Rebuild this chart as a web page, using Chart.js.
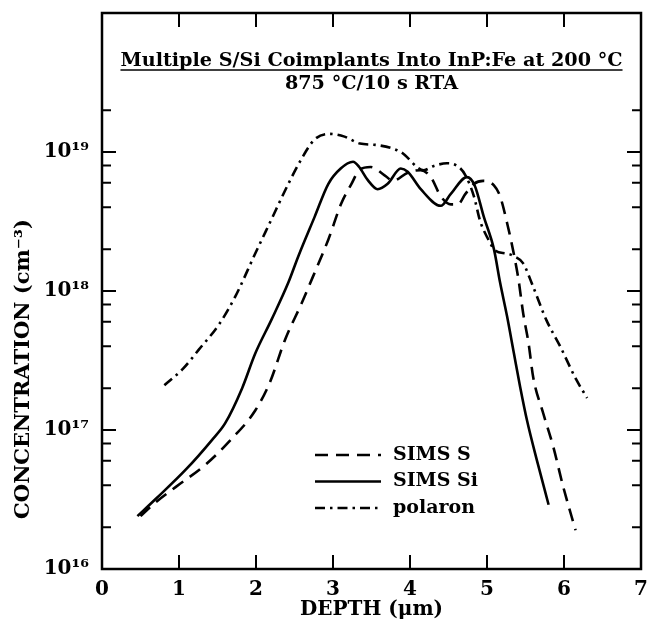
<!DOCTYPE html>
<html><head><meta charset="utf-8">
<script src="https://cdn.jsdelivr.net/npm/chart.js@4.4.0/dist/chart.umd.min.js"></script>
<style>html,body{margin:0;padding:0;background:#fff;}#wrap{width:649px;height:636px;}</style>
</head><body><div id="wrap"><canvas id="c" width="649" height="636"></canvas></div>
<script>
const titleLine1 = 'Multiple S/Si Coimplants Into InP:Fe at 200 °C';
const titleLine2 = '875 °C/10 s RTA';
const xAxisTitle = 'DEPTH (μm)';
const yAxisTitle = 'CONCENTRATION (cm⁻³)';
const seriesNames = ['SIMS S', 'SIMS Si', 'polaron'];
const xTickValues = [0, 1, 2, 3, 4, 5, 6, 7];
const yMajorTicks = [1e16, 1e17, 1e18, 1e19];
const yTickLabels = ['10¹⁶', '10¹⁷', '10¹⁸', '10¹⁹'];
const yMinorTicks = [2e16, 4e16, 6e16, 8e16, 2e17, 4e17, 6e17, 8e17, 2e18, 4e18, 6e18, 8e18, 2e19];

const simsS_x = [0.50, 0.66, 0.96, 1.34, 1.69, 1.99, 2.18, 2.38, 2.59, 2.76, 2.94, 3.11, 3.24, 3.34, 3.49, 3.67, 3.78, 3.97, 4.14, 4.27, 4.40, 4.53, 4.62, 4.72, 4.83, 4.95, 5.09, 5.17, 5.26, 5.34, 5.41, 5.47, 5.54, 5.60, 5.73, 5.86, 5.99, 6.15];
const simsS_y = [2.4e16, 2.9e16, 3.9e16, 5.6e16, 8.7e16, 1.38e17, 2.2e17, 4.5e17, 8.1e17, 1.35e18, 2.35e18, 4.3e18, 5.9e18, 7.4e18, 7.8e18, 6.8e18, 6.2e18, 7.1e18, 7.4e18, 6.6e18, 4.8e18, 4.2e18, 4.2e18, 5.0e18, 5.9e18, 6.2e18, 5.75e18, 4.8e18, 3.1e18, 1.95e18, 1.2e18, 6.9e17, 4.2e17, 2.4e17, 1.32e17, 7.6e16, 3.9e16, 1.9e16];

const simsSi_x = [0.46, 0.70, 1.09, 1.43, 1.60, 1.82, 1.99, 2.20, 2.42, 2.55, 2.76, 2.94, 3.10, 3.26, 3.34, 3.45, 3.58, 3.71, 3.88, 3.97, 4.14, 4.40, 4.53, 4.74, 4.84, 4.96, 5.09, 5.17, 5.26, 5.35, 5.43, 5.52, 5.65, 5.80];
const simsSi_y = [2.4e16, 3.2e16, 5.2e16, 8.5e16, 1.12e17, 2.0e17, 3.55e17, 6.2e17, 1.15e18, 1.78e18, 3.4e18, 5.9e18, 7.6e18, 8.5e18, 7.8e18, 6.3e18, 5.4e18, 5.9e18, 7.6e18, 7.2e18, 5.4e18, 4.1e18, 5.0e18, 6.6e18, 5.75e18, 3.4e18, 2.0e18, 1.15e18, 6.6e17, 3.55e17, 2.05e17, 1.17e17, 6.0e16, 2.9e16];

const polaron_x = [0.81, 1.05, 1.26, 1.52, 1.73, 1.99, 2.18, 2.42, 2.59, 2.76, 2.95, 3.15, 3.35, 3.58, 3.88, 4.18, 4.30, 4.48, 4.62, 4.72, 4.83, 4.91, 5.00, 5.11, 5.25, 5.35, 5.47, 5.60, 5.77, 5.95, 6.16, 6.30];
const polaron_y = [2.1e17, 2.75e17, 3.8e17, 5.75e17, 9.1e17, 1.86e18, 3.1e18, 5.9e18, 8.9e18, 1.23e19, 1.35e19, 1.29e19, 1.15e19, 1.12e19, 1.0e19, 7.4e18, 7.9e18, 8.3e18, 7.9e18, 6.8e18, 4.8e18, 3.2e18, 2.45e18, 1.95e18, 1.86e18, 1.78e18, 1.58e18, 1.07e18, 6.2e17, 4.0e17, 2.3e17, 1.7e17];

const FONT = '"DejaVu Serif", "Liberation Serif", serif';
const toPts = (xs, ys) => xs.map((x, i) => ({x: x, y: ys[i]}));

const framePlugin = {
  id: 'frame',
  afterDraw(chart) {
    const ctx = chart.ctx, a = chart.chartArea;
    const xs = chart.scales.x, ys = chart.scales.y;
    ctx.save();
    ctx.strokeStyle = '#000';
    ctx.lineWidth = 2.5;
    ctx.strokeRect(a.left, a.top, a.right - a.left, a.bottom - a.top);
    ctx.lineWidth = 2;
    ctx.beginPath();
    xTickValues.forEach(v => {
      if (v === xs.min || v === xs.max) return;
      const p = xs.getPixelForValue(v);
      ctx.moveTo(p, a.bottom); ctx.lineTo(p, a.bottom - 14);
      ctx.moveTo(p, a.top); ctx.lineTo(p, a.top + 14);
    });
    yMajorTicks.forEach(v => {
      if (v === ys.min) return;
      const p = ys.getPixelForValue(v);
      ctx.moveTo(a.left, p); ctx.lineTo(a.left + 14, p);
      ctx.moveTo(a.right, p); ctx.lineTo(a.right - 14, p);
    });
    yMinorTicks.forEach(v => {
      const p = ys.getPixelForValue(v);
      ctx.moveTo(a.left, p); ctx.lineTo(a.left + 9, p);
      ctx.moveTo(a.right, p); ctx.lineTo(a.right - 9, p);
    });
    ctx.stroke();

    // title inside plot
    const cx = (a.left + a.right) / 2;
    ctx.fillStyle = '#000';
    ctx.textAlign = 'center';
    ctx.textBaseline = 'alphabetic';
    ctx.font = 'bold 19.2px ' + FONT;
    ctx.fillText(titleLine1, cx, 66);
    const w = ctx.measureText(titleLine1).width;
    ctx.lineWidth = 1.5;
    ctx.beginPath();
    ctx.moveTo(cx - w / 2, 70); ctx.lineTo(cx + w / 2, 70);
    ctx.stroke();
    ctx.fillText(titleLine2, cx, 88.5);

    // y axis title
    ctx.save();
    ctx.translate(24, 369);
    ctx.rotate(-Math.PI / 2);
    ctx.textBaseline = 'middle';
    ctx.font = 'bold 21px ' + FONT;
    ctx.fillText(yAxisTitle, 0, 0);
    ctx.restore();

    // legend
    ctx.textAlign = 'left';
    ctx.textBaseline = 'middle';
    ctx.font = 'bold 19px ' + FONT;
    chart.data.datasets.forEach((ds, i) => {
      const y = 455 + i * 26.5;
      ctx.save();
      ctx.lineWidth = ds.borderWidth;
      ctx.setLineDash(ds.borderDash || []);
      ctx.beginPath();
      ctx.moveTo(315, y); ctx.lineTo(381, y);
      ctx.stroke();
      ctx.restore();
      ctx.fillText(ds.label, 393, y);
    });
    ctx.restore();
  }
};

const dashS = [13, 8];
const dashP = [10, 5, 2.5, 5];

new Chart(document.getElementById('c'), {
  type: 'scatter',
  data: {
    datasets: [
      {label: seriesNames[0], data: toPts(simsS_x, simsS_y), borderColor: '#000', borderWidth: 2.6, borderDash: dashS, showLine: true, pointRadius: 0, cubicInterpolationMode: 'monotone'},
      {label: seriesNames[1], data: toPts(simsSi_x, simsSi_y), borderColor: '#000', borderWidth: 2.6, borderDash: [], showLine: true, pointRadius: 0, cubicInterpolationMode: 'monotone'},
      {label: seriesNames[2], data: toPts(polaron_x, polaron_y), borderColor: '#000', borderWidth: 2.6, borderDash: dashP, showLine: true, pointRadius: 0, cubicInterpolationMode: 'monotone'}
    ]
  },
  options: {
    responsive: false,
    animation: false,
    devicePixelRatio: 1,
    layout: {padding: {top: 13, right: 8, left: 0, bottom: 0}},
    plugins: {legend: {display: false}, tooltip: {enabled: false}},
    scales: {
      x: {
        type: 'linear', min: 0, max: 7,
        grid: {display: false, drawTicks: false},
        border: {display: false},
        afterBuildTicks: s => { s.ticks = xTickValues.map(v => ({value: v})); },
        afterFit: s => { s.height = 67; s.paddingLeft = 0; s.paddingRight = 0; },
        ticks: {color: '#000', padding: 9, font: {family: FONT, size: 20, weight: 'bold'}, maxRotation: 0, autoSkip: false},
        title: {display: true, text: xAxisTitle, color: '#000', padding: {top: 2, bottom: 14}, font: {family: FONT, size: 20, weight: 'bold'}}
      },
      y: {
        type: 'logarithmic', min: 1e16, max: 1e20,
        grid: {display: false, drawTicks: false},
        border: {display: false},
        afterBuildTicks: s => { s.ticks = yMajorTicks.map(v => ({value: v})); },
        afterFit: s => { s.width = 102; s.paddingTop = 0; s.paddingBottom = 0; },
        ticks: {color: '#000', padding: 13, font: {family: FONT, size: 20, weight: 'bold'}, autoSkip: false,
          callback: (v) => { const i = yMajorTicks.indexOf(v); return i >= 0 ? yTickLabels[i] : ''; }}
      }
    }
  },
  plugins: [framePlugin]
});
</script></body></html>
